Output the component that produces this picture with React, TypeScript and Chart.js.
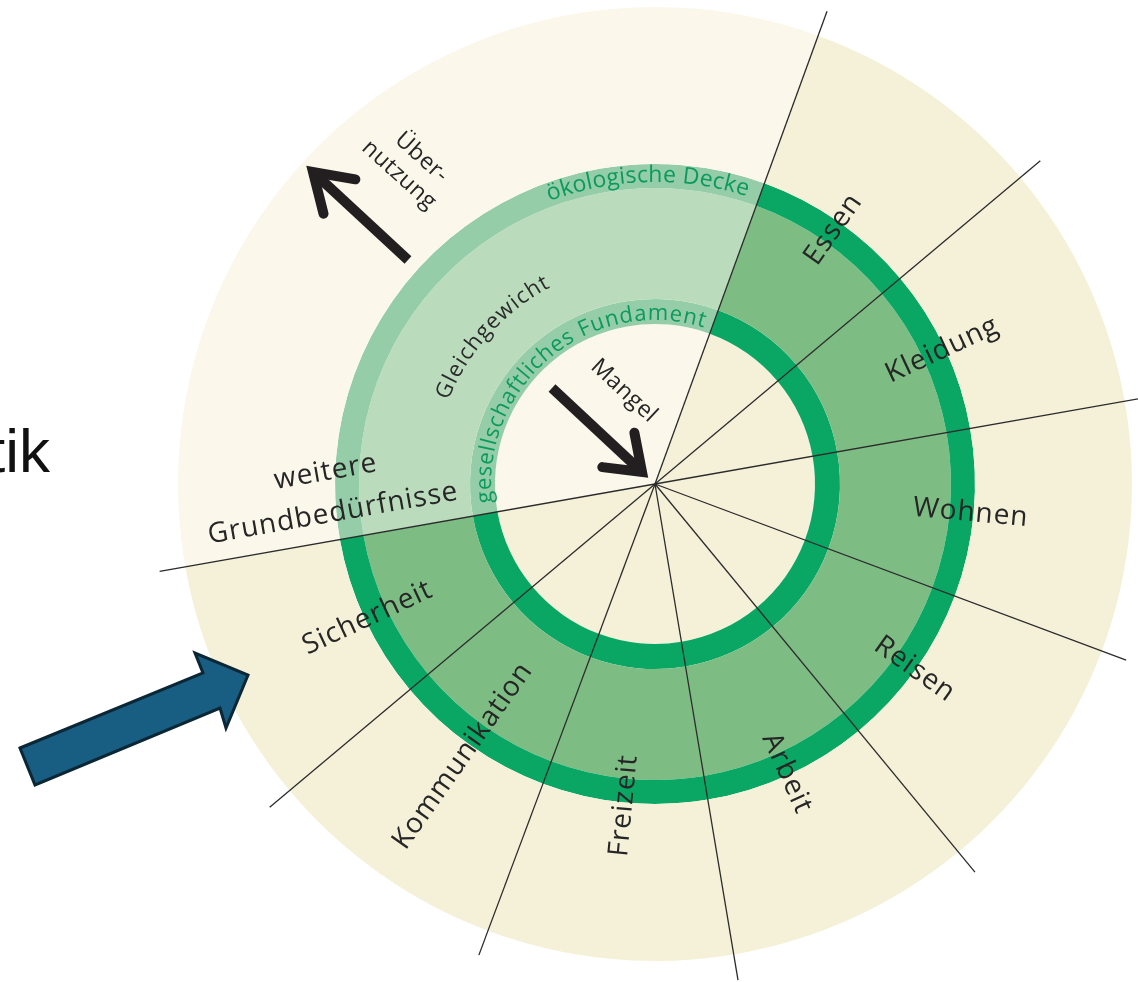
import React, { useEffect, useRef } from "react";
import { Chart, registerables } from "chart.js";

Chart.register(...registerables);

// ---------------- data ----------------
const categories = [
  "Essen",
  "Kleidung",
  "Wohnen",
  "Reisen",
  "Arbeit",
  "Freizeit",
  "Kommunikation",
  "Sicherheit",
  "weitere Grundbedürfnisse",
];
// angular size of every sector (degrees)
const sectorDegrees = [30, 30, 30.5, 30, 30, 30, 29.5, 30, 120];
// start of the first sector, degrees clockwise from 12 o'clock
const firstSectorStart = 20;
// rings from the outside in
const ringNames = ["Übernutzung", "ökologische Decke", "Gleichgewicht", "gesellschaftliches Fundament", "Mangel"];
const ringThickness = [157, 24, 111, 25, 160];
const ringColorsMain = ["#f5f1d9", "#0aa664", "#7dbd84", "#0aa664", "#f5f1d9"];
const ringColorsOther = ["#fbf8eb", "#94cda7", "#badcbd", "#94cda7", "#fbf8eb"];
const otherIndex = 8;

// curved ring titles: text, baseline radius, from/to angle (deg from top)
const curvedTitles = [
  { text: "ökologische Decke", r: 302, from: 339.5, to: 17.7, color: "#0b9a5d", size: 23 },
  { text: "gesellschaftliches Fundament", r: 164, from: 263.4, to: 377.3, color: "#0b9a5d", size: 22 },
  { text: "Gleichgewicht", r: 223, from: 292, to: 332, color: "#2b2b2b", size: 22 },
];

// ---------------- layout constants ----------------
const W = 1138;
const H = 982;
const OUTER_R = 477;
const LINE_R = 503;
const DEG = Math.PI / 180;
const labelRadius = [311, 317, 317, 319, 318, 323, 333, 317];
const FONT_FAMILY = "'Open Sans', sans-serif";
const LABEL_FONT = `28px ${FONT_FAMILY}`;
const SMALL_FONT = `23px ${FONT_FAMILY}`;
const TEXT_COLOR = "#262626";
const ARROW_COLOR = "#231f20";

const blueArrow = [
  [20, 748],
  [203, 673],
  [195, 653],
  [248, 675],
  [226, 728],
  [220, 708],
  [35, 785],
];

function drawArrow(ctx: CanvasRenderingContext2D, tx: number, ty: number, px: number, py: number, headLen: number, headAng: number) {
  const back = Math.atan2(ty - py, tx - px);
  ctx.beginPath();
  ctx.lineCap = "butt";
  ctx.moveTo(tx, ty);
  ctx.lineTo(px, py);
  ctx.stroke();
  ctx.beginPath();
  ctx.lineCap = "round";
  ctx.lineJoin = "miter";
  ctx.moveTo(px + headLen * Math.cos(back - headAng), py + headLen * Math.sin(back - headAng));
  ctx.lineTo(px, py);
  ctx.lineTo(px + headLen * Math.cos(back + headAng), py + headLen * Math.sin(back + headAng));
  ctx.stroke();
}

const overlayPlugin = {
  id: "doughnutOverlay",
  afterDatasetsDraw(chart: any) {
    const ctx: CanvasRenderingContext2D = chart.ctx;
    const arcs = chart.getDatasetMeta(0).data as any[];
    const cx = arcs[0].x;
    const cy = arcs[0].y;
    const toTop = (a: number) => a / DEG + 90;
    const pt = (r: number, th: number) => [cx + r * Math.sin(th * DEG), cy - r * Math.cos(th * DEG)];

    ctx.save();
    // sector boundary lines
    ctx.strokeStyle = "#2b2b2b";
    ctx.lineWidth = 1.3;
    arcs.forEach((arc) => {
      const [x, y] = pt(LINE_R, toTop(arc.startAngle));
      ctx.beginPath();
      ctx.moveTo(cx, cy);
      ctx.lineTo(x, y);
      ctx.stroke();
    });

    // sector labels
    ctx.fillStyle = TEXT_COLOR;
    ctx.font = LABEL_FONT;
    (ctx as any).letterSpacing = "1px";
    ctx.textAlign = "center";
    ctx.textBaseline = "middle";
    arcs.forEach((arc, i) => {
      if (i === otherIndex) return;
      const mid = toTop((arc.startAngle + arc.endAngle) / 2);
      const [x, y] = pt(labelRadius[i], mid);
      let rot = (mid - 90) * DEG;
      if ((mid % 360) > 180) rot += Math.PI;
      ctx.save();
      ctx.translate(x, y);
      ctx.rotate(rot);
      ctx.fillText(categories[i], 0, 0);
      ctx.restore();
    });

    // "weitere Grundbedürfnisse" along its start boundary
    {
      const arc = arcs[otherIndex];
      const st = toTop(arc.startAngle);
      const [x, y] = pt(326, st + 8.8);
      const rot = (st - 90 - 180) * DEG;
      const parts = categories[otherIndex].split(" ");
      ctx.save();
      ctx.translate(x, y);
      ctx.rotate(rot);
      ctx.textBaseline = "alphabetic";
      ctx.fillText(parts[0], 0, -11);
      ctx.fillText(parts[1], 0, 31);
      ctx.restore();
    }

    // curved ring titles
    (ctx as any).letterSpacing = "0px";
    ctx.textAlign = "center";
    ctx.textBaseline = "alphabetic";
    curvedTitles.forEach((t) => {
      ctx.font = `${t.size}px ${FONT_FAMILY}`;
      ctx.fillStyle = t.color;
      const chars = [...t.text];
      const widths = chars.map((c) => ctx.measureText(c).width);
      const total = widths.reduce((a, b) => a + b, 0);
      let to = t.to;
      if (to < t.from) to += 360;
      const target = (to - t.from) * DEG * t.r;
      const extra = (target - total) / (chars.length - 1);
      let s = 0;
      chars.forEach((c, i) => {
        const sc = s + widths[i] / 2;
        const th = t.from + (sc / t.r) / DEG;
        const [x, y] = pt(t.r, th);
        ctx.save();
        ctx.translate(x, y);
        ctx.rotate(th * DEG);
        ctx.fillText(c, 0, 0);
        ctx.restore();
        s += widths[i] + extra;
      });
    });

    // arrows
    ctx.strokeStyle = ARROW_COLOR;
    ctx.lineWidth = 10;
    drawArrow(ctx, cx - 247, cy - 224, cx - 342, cy - 312, 43, 33 * DEG);
    drawArrow(ctx, cx - 103, cy - 96, cx - 13, cy - 12, 40, 36 * DEG);

    // arrow captions
    ctx.fillStyle = TEXT_COLOR;
    ctx.font = SMALL_FONT;
    (ctx as any).letterSpacing = "0.5px";
    ctx.textAlign = "center";
    ctx.textBaseline = "middle";
    ctx.save();
    ctx.translate(cx - 31, cy - 93);
    ctx.rotate(43 * DEG);
    ctx.fillText("Mangel", 0, 0);
    ctx.restore();
    ctx.save();
    ctx.translate(cx - 245, cy - 318);
    ctx.rotate(42 * DEG);
    ctx.fillText("Über-", 3, -14);
    ctx.fillText("nutzung", -2, 14);
    ctx.restore();

    // blue pointer arrow
    ctx.beginPath();
    blueArrow.forEach(([x, y], i) => (i === 0 ? ctx.moveTo(x, y) : ctx.lineTo(x, y)));
    ctx.closePath();
    ctx.fillStyle = "#175e82";
    ctx.fill();
    ctx.lineWidth = 3;
    ctx.lineJoin = "miter";
    ctx.strokeStyle = "#0b2736";
    ctx.stroke();

    // cut-off slide text
    (ctx as any).letterSpacing = "0px";
    ctx.fillStyle = "#111111";
    ctx.font = "62px 'Liberation Sans', Arial, sans-serif";
    ctx.textAlign = "left";
    ctx.textBaseline = "alphabetic";
    ctx.fillText("tik", -12, 472);

    ctx.restore();
  },
};

export default function App() {
  const ref = useRef<HTMLCanvasElement>(null);
  useEffect(() => {
    if (!ref.current) return;
    const chart = new Chart(ref.current, {
      type: "doughnut",
      data: {
        labels: categories,
        datasets: ringNames.map((name, i) => ({
          label: name,
          data: sectorDegrees,
          backgroundColor: categories.map((_, j) => (j === otherIndex ? ringColorsOther[i] : ringColorsMain[i])),
          borderWidth: 0,
          hoverOffset: 0,
          weight: ringThickness[i],
        })),
      },
      options: {
        responsive: false,
        animation: false,
        rotation: firstSectorStart,
        cutout: 0,
        radius: OUTER_R,
        events: [],
        layout: { padding: { left: 177, right: 5, top: 6, bottom: 20 } },
        plugins: { legend: { display: false }, tooltip: { enabled: false } },
      } as any,
      plugins: [overlayPlugin],
    });
    return () => chart.destroy();
  }, []);
  return (
    <div style={{ position: "absolute", left: 0, top: 0, width: W, height: H, background: "#ffffff", overflow: "hidden" }}>
      <canvas ref={ref} width={W} height={H} style={{ display: "block", width: W, height: H }} />
    </div>
  );
}
